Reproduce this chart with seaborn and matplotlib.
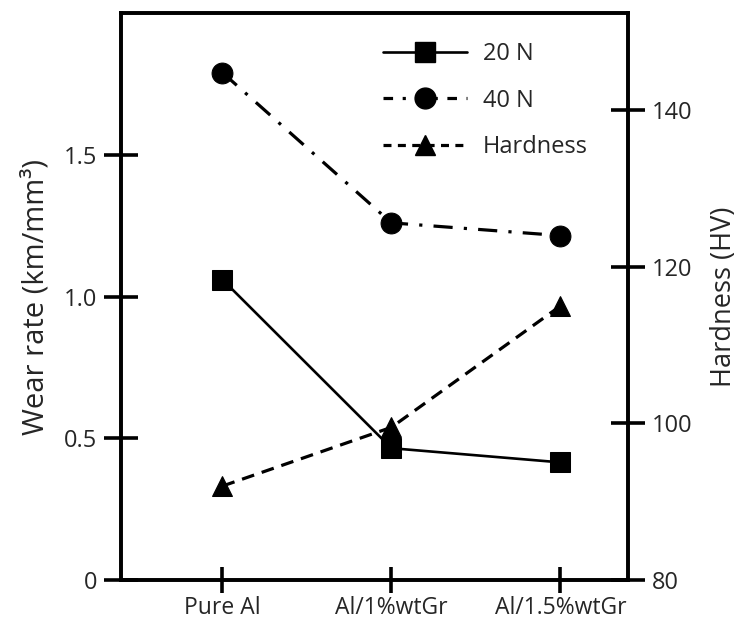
import matplotlib
matplotlib.use("Agg")
import matplotlib.pyplot as plt
from matplotlib.lines import Line2D
import seaborn as sns

# Samples and measured values
materials = ["Pure Al", "Al/1%wtGr", "Al/1.5%wtGr"]
wear_20n = [1.06, 0.465, 0.415]
wear_40n = [1.79, 1.26, 1.215]
hardness = [92.0, 99.5, 115.0]

wear_ticks = [0, 0.5, 1.0, 1.5]
wear_tick_labels = ["0", "0.5", "1.0", "1.5"]
hard_ticks = [80, 100, 120, 140]
hard_tick_labels = ["80", "100", "120", "140"]

sns.set_theme(style="white")
plt.rcParams["font.family"] = ["Open Sans", "DejaVu Sans"]
plt.rcParams["font.size"] = 17

fig = plt.figure(figsize=(7.38, 6.23), dpi=100)
ax = fig.add_axes([0.164, 0.069, 0.687, 0.910])
ax2 = ax.twinx()

lw_axis = 2.6
for a in (ax, ax2):
    for s in a.spines.values():
        s.set_linewidth(lw_axis)
        s.set_color("black")

# Wear rate curves (left axis)
sns.lineplot(x=materials, y=wear_20n, ax=ax, color="black", marker="s",
             markersize=14, linewidth=1.9, linestyle="-", sort=False,
             markeredgecolor="black")
sns.lineplot(x=materials, y=wear_40n, ax=ax, color="black", marker="o",
             markersize=15, linewidth=2.3, linestyle=(0, (6, 3.5, 1, 3.5)),
             sort=False, markeredgecolor="black")
# Hardness curve (right axis)
sns.lineplot(x=materials, y=hardness, ax=ax2, color="black", marker="^",
             markersize=15, linewidth=2.3, linestyle=(0, (4, 2.5)),
             sort=False, markeredgecolor="black")

ax.set_xlim(-0.6, 2.4)
ax.set_ylim(0, 2.0)
ax2.set_ylim(80, 152.4)

ax.set_yticks(wear_ticks)
ax.set_yticklabels(wear_tick_labels)
ax2.set_yticks(hard_ticks)
ax2.set_yticklabels(hard_tick_labels)
ax.set_xticks(range(len(materials)))
ax.set_xticklabels(materials)

tick_kw = dict(direction="inout", length=24, width=lw_axis, color="black",
               labelsize=17, pad=5)
ax.tick_params(axis="y", left=True, right=False, **tick_kw)
ax.tick_params(axis="x", bottom=True, top=False, direction="inout",
               length=19, width=lw_axis, color="black", labelsize=16.5, pad=2)
ax2.tick_params(axis="y", right=True, left=False, **tick_kw)

ax.set_xlabel("")
ax.set_ylabel("Wear rate (km/mm\u00b3)", fontsize=21, labelpad=10)
ax2.set_ylabel("Hardness (HV)", fontsize=19.5, labelpad=13)

for a in (ax, ax2):
    leg = a.get_legend()
    if leg is not None:
        leg.remove()

handles = [
    Line2D([], [], color="black", marker="s", markersize=14, linewidth=1.9,
           linestyle="-"),
    Line2D([], [], color="black", marker="o", markersize=15, linewidth=2.3,
           linestyle=(0, (3, 3, 1, 3))),
    Line2D([], [], color="black", marker="^", markersize=15, linewidth=2.3,
           linestyle=(0, (2.5, 2))),
]
ax2.legend(handles, ["20 N", "40 N", "Hardness"], loc="upper left",
           bbox_to_anchor=(0.475, 0.986), frameon=False, fontsize=17,
           handlelength=3.55, labelspacing=0.95, handletextpad=0.68)

fig.savefig("out.png", dpi=100)
